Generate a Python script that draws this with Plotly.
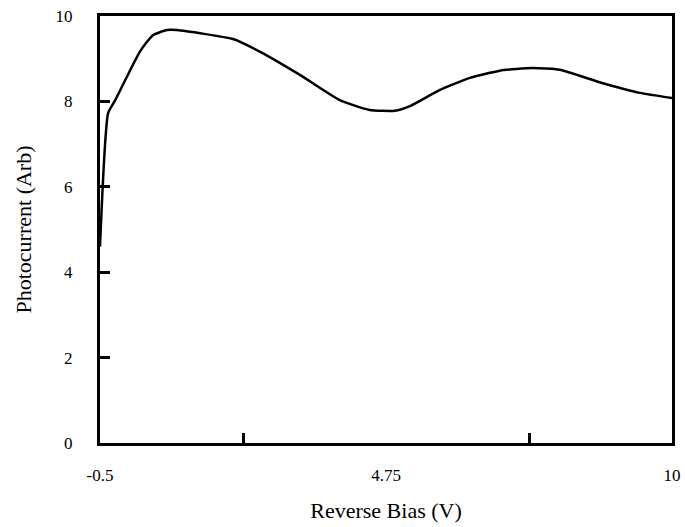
import plotly.graph_objects as go

bias = [-0.5, -0.35, -0.22, 0.23, 0.47, 0.73, 0.91, 1.94, 2.44, 3.17, 3.9, 4.45, 4.91, 5.19, 5.74, 6.29, 6.84, 7.44, 7.94, 8.67, 9.41, 10.0]
current = [4.6, 7.73, 8.03, 9.16, 9.55, 9.67, 9.67, 9.46, 9.16, 8.62, 8.03, 7.8, 7.78, 7.89, 8.27, 8.55, 8.72, 8.78, 8.74, 8.45, 8.2, 8.08]

x_label_vals = [-0.5, 4.75, 10]
x_label_text = ["-0.5", "4.75", "10"]
x_minor_ticks = [2.125, 7.375]
y_tick_vals = [0, 2, 4, 6, 8, 10]

font_family = "Liberation Serif"

fig = go.Figure()
fig.add_trace(go.Scatter(x=bias, y=current, mode="lines",
                         line=dict(color="black", width=2.5, shape="spline", smoothing=0.5),
                         showlegend=False, hoverinfo="skip"))
fig.add_trace(go.Scatter(x=[-0.5], y=[0], xaxis="x2", mode="markers",
                         marker=dict(opacity=0), showlegend=False, hoverinfo="skip"))

fig.update_layout(
    width=685, height=527,
    margin=dict(l=100, r=13, t=16, b=84),
    plot_bgcolor="white", paper_bgcolor="white",
    font=dict(family=font_family, size=17, color="black"),
    xaxis=dict(range=[-0.5, 10], tickvals=x_minor_ticks, ticktext=["", ""],
               ticks="inside", ticklen=10, tickwidth=2.5, tickcolor="black",
               showline=True, linecolor="black", linewidth=3, mirror=True,
               showgrid=False, zeroline=False, automargin=False),
    xaxis2=dict(range=[-0.5, 10], overlaying="x", side="bottom", anchor="y",
                tickvals=x_label_vals, ticktext=x_label_text, ticks="",
                showline=False, showgrid=False, zeroline=False, automargin=False,
                ticklabelstandoff=20,
                tickfont=dict(family=font_family, size=17, color="black"),
                title=dict(text="Reverse Bias (V)", standoff=18,
                           font=dict(family=font_family, size=22, color="black"))),
    yaxis=dict(range=[0, 10], tickvals=y_tick_vals, ticks="inside", ticklen=10,
               tickwidth=2.5, tickcolor="black",
               showline=True, linecolor="black", linewidth=3, mirror=True,
               showgrid=False, zeroline=False, ticklabelstandoff=21, automargin=False,
               tickfont=dict(family=font_family, size=17, color="black"),
               title=dict(text="Photocurrent (Arb)", standoff=18,
                          font=dict(family=font_family, size=22, color="black"))),
)

fig.write_html("out.html")
